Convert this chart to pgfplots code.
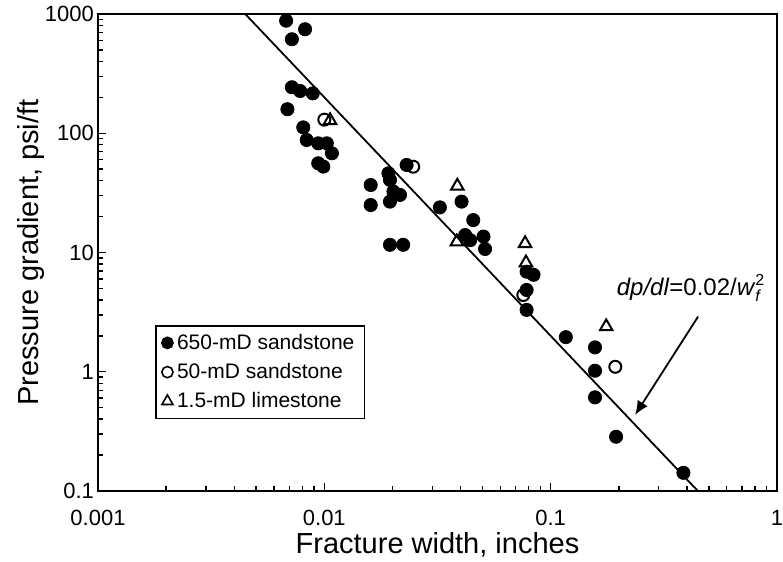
\documentclass[border=0pt]{standalone}
\usepackage{amsmath}
\usepackage{fontspec}
\setmainfont{Liberation Sans}
\usepackage{pgfplots}
\pgfplotsset{compat=1.18}
\usetikzlibrary{arrows.meta}

\begin{document}
\begin{tikzpicture}
\begin{axis}[
  xmode=log, ymode=log,
  scale only axis,
  width=339.5pt, height=238.5pt,
  xmin=0.001, xmax=1, ymin=0.1, ymax=1000,
  xtick={0.001,0.01,0.1,1}, xticklabels={0.001,0.01,0.1,1},
  ytick={0.1,1,10,100,1000}, yticklabels={0.1,1,10,100,1000},
  tick align=inside, xtick pos=bottom, ytick pos=left,
  major tick length=4pt, minor tick length=2.5pt,
  axis line style={line width=1pt},
  every tick/.style={black, line width=0.7pt},
  /pgf/number format/assume math mode=true,
  tick label style={font=\fontsize{11}{12}\selectfont},
  xticklabel style={yshift=-6pt},
  yticklabel style={xshift=1.5pt},
  xlabel={Fracture width, inches},
  ylabel={Pressure gradient, psi/ft},
  label style={font=\fontsize{14.5}{16}\selectfont},
  xlabel style={at={(rel axis cs:0.5,-0.113)}, anchor=center},
  ylabel style={at={(rel axis cs:-0.098,0.5)}, anchor=center},
  legend cell align=left,
  legend style={at={(rel axis cs:0.084,0.348)}, anchor=north west,
    draw=black, line width=0.8pt, font=\fontsize{10.5}{12}\selectfont,
    inner xsep=3pt, inner ysep=2pt, row sep=1.5pt},
]
\addlegendimage{only marks, mark=*, mark size=2.8pt, mark options={fill=black, draw=black}}
\addlegendentry{650-mD sandstone}
\addlegendimage{only marks, mark=o, mark size=2.8pt, mark options={draw=black, line width=0.8pt}}
\addlegendentry{50-mD sandstone}
\addlegendimage{only marks, mark=triangle, mark size=3.2pt, mark options={draw=black, line width=0.8pt}}
\addlegendentry{1.5-mD limestone}

% 50-mD sandstone
\addplot[forget plot, only marks, mark=o, mark size=3pt,
  mark options={draw=black, fill=white, line width=1pt}] coordinates {
  (0.0100,130) (0.0247,52.4) (0.0757,4.4) (0.193,1.10)
};

% 1.5-mD limestone
\addplot[forget plot, only marks, mark=triangle, mark size=3.6pt,
  mark options={draw=black, fill=white, line width=1pt}] coordinates {
  (0.0106,128) (0.0387,36.1) (0.0385,12.3) (0.0771,11.9) (0.0778,8.2) (0.176,2.39)
};

% 650-mD sandstone
\addplot[forget plot, only marks, mark=*, mark size=3.3pt,
  mark options={draw=black, fill=black}] coordinates {
  (0.00678,879) (0.00822,745) (0.00719,614) (0.00719,243) (0.00782,226)
  (0.00889,216) (0.00687,159) (0.00807,112) (0.00836,87.8) (0.0094,82.3)
  (0.01026,82.3) (0.0108,67.9) (0.0094,56) (0.0099,52.5) (0.01603,36.8)
  (0.0192,46.1) (0.0195,40.6) (0.0202,32.4) (0.0216,30.4) (0.01603,25.0)
  (0.0195,26.7) (0.0195,11.6) (0.0223,11.6) (0.0231,54.2) (0.0324,23.9)
  (0.0404,26.7) (0.0455,18.7) (0.0419,14.0) (0.0441,12.7) (0.0505,13.6)
  (0.0513,10.7) (0.0783,6.9) (0.0840,6.5) (0.0783,4.85) (0.0783,3.3)
  (0.1167,1.95) (0.157,1.60) (0.157,1.02) (0.157,0.61) (0.1946,0.285)
  (0.386,0.142)
};

% dp/dl = 0.02/wf^2
\addplot[forget plot, black, line width=0.9pt] coordinates {
  (0.004472,1000) (0.4472,0.1)
};

\draw[black, line width=0.9pt, -{Latex[length=7pt, width=6pt]}]
  (axis cs:0.448,2.9) -- (axis cs:0.236,0.434);
\node[anchor=east, inner sep=0pt, font=\fontsize{12}{14}\selectfont]
  at (rel axis cs:0.982,0.425)
  {\textit{dp/dl}=0.02/\textit{w}\rlap{\raisebox{-3pt}{\fontsize{8}{8}\selectfont\itshape f}}\raisebox{5pt}{\fontsize{8}{8}\selectfont 2}};

\coordinate (bl) at (rel axis cs:0,0);
\coordinate (tr) at (rel axis cs:1,1);
\end{axis}
\pgfresetboundingbox
\path[use as bounding box] ([shift={(-49pt,-35.5pt)}]bl) rectangle ([shift={(3pt,7pt)}]tr);
\end{tikzpicture}
\end{document}
